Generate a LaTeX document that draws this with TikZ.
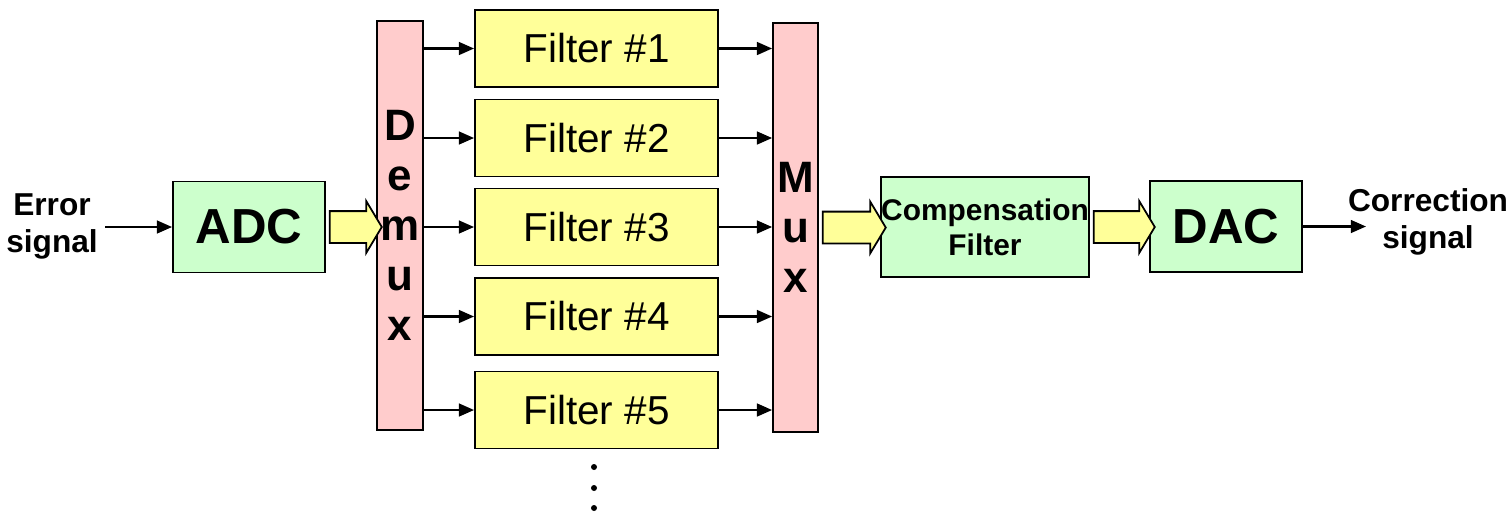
\documentclass[tikz,border=0pt]{standalone}
\usepackage{fontspec}
\setmainfont{Liberation Sans}
\usetikzlibrary{arrows.meta,calc,positioning,shapes.arrows}
\definecolor{filteryellow}{HTML}{FFFF99}
\definecolor{convgreen}{HTML}{CCFFCC}
\definecolor{muxpink}{HTML}{FFCCCC}

\begin{document}
\begin{tikzpicture}[x=0.01cm, y=-0.01cm,
    box/.style={draw, line width=0.5pt, inner sep=0pt, align=center},
    filterbox/.style={box, fill=filteryellow, minimum width=2.43cm, minimum height=0.77cm, font=\fontsize{11.5}{14}\selectfont},
    convbox/.style={box, fill=convgreen, minimum width=1.52cm, minimum height=0.91cm, font=\bfseries\fontsize{14}{16}\selectfont},
    muxbox/.style={box, fill=muxpink, minimum width=0.46cm, minimum height=4.09cm, font=\bfseries\fontsize{12.5}{14.2}\selectfont},
    fatarrow/.style={single arrow, draw, line width=0.5pt, fill=filteryellow, inner xsep=0pt, inner ysep=0.15cm, single arrow head extend=0.1cm, single arrow tip angle=118},
    sig/.style={-{Triangle[length=4.3pt,width=3.6pt]}, line width=0.65pt},
    lbl/.style={align=center, font=\bfseries\fontsize{9}{10.5}\selectfont}]
    \useasboundingbox (0,0) rectangle (1512,511);
    % blocks
    \node[convbox] (adc) at (249,227) {ADC};
    \node[muxbox] (demux) at (400,225.5) {D\\e\\m\\u\\x};
    \node[muxbox, minimum width=0.45cm] (mux) at (795.5,227.5) {M\\u\\x};
    \node[convbox, minimum width=2.08cm, minimum height=1.0cm, font=\bfseries\fontsize{8.5}{10}\selectfont] (comp) at (985,227) {Compensation\\Filter};
    \node[convbox] (dac) at (1226,226.5) {DAC};
    % filter bank
    \foreach \i/\y in {1/48.5,2/138,3/227,4/316.5,5/410} {
        \node[filterbox] (f\i) at (596.5,\y) {Filter \#\i};
        \draw[sig] (f\i.west -| demux.east) -- (f\i.west);
        \draw[sig] (f\i.east) -- (f\i.east -| mux.west);
    }
    \foreach \y in {467,488,508}
        \fill (594,\y) circle (0.03cm);
    % wide arrows
    \node[fatarrow, minimum height=0.52cm] (a1) at ($(adc.east)!0.5!(adc.east -| demux.west)$) {};
    \node[fatarrow, minimum height=0.63cm] (a2) at ($(mux.east)!0.5!(mux.east -| comp.west)$) {};
    \node[fatarrow, minimum height=0.61cm] (a3) at ($(comp.east)!0.5!(comp.east -| dac.west)$) {};
    % input and output
    \node[lbl] (err) at (52,226) {Error\\signal};
    \node[lbl] (corr) at (1428,222) {Correction\\signal};
    \coordinate (in) at (105,227);
    \coordinate (out) at (1366,226.5);
    \draw[sig] (in) -- (adc.west);
    \draw[sig] (dac.east) -- (out);
\end{tikzpicture}
\end{document}
